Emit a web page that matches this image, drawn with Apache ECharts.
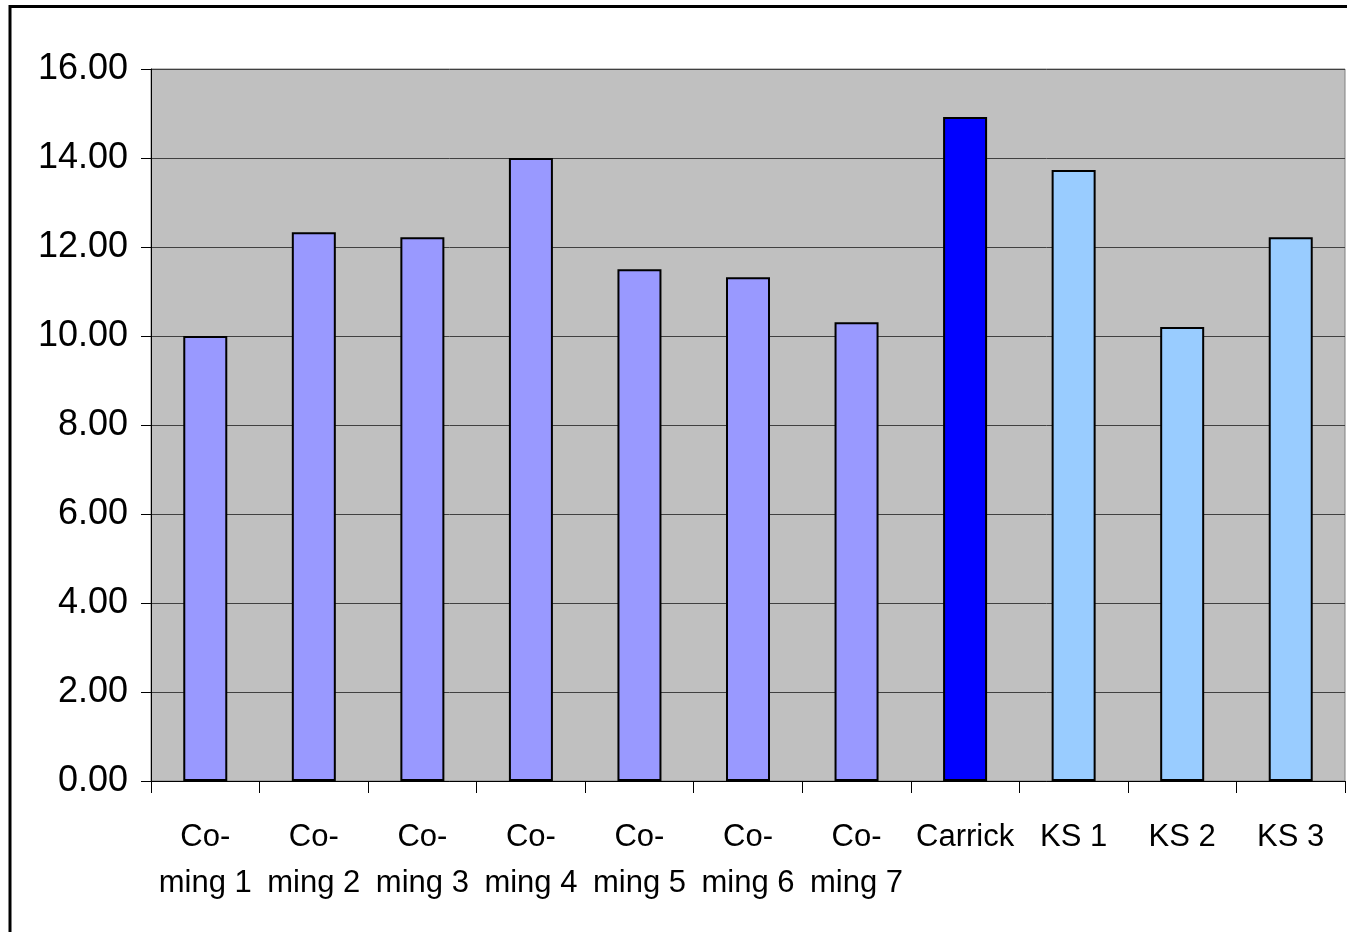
<!DOCTYPE html>
<html>
<head>
<meta charset="utf-8">
<script src="https://cdn.jsdelivr.net/npm/echarts@6/dist/echarts.min.js"></script>
<style>
  html, body { margin: 0; padding: 0; background: #fff; }
  #chart { width: 1347px; height: 932px; }
</style>
</head>
<body>
<div id="chart"></div>
<script>
// data
const categories = ['Co-ming 1', 'Co-ming 2', 'Co-ming 3', 'Co-ming 4', 'Co-ming 5', 'Co-ming 6', 'Co-ming 7', 'Carrick', 'KS 1', 'KS 2', 'KS 3'];
const values = [10.0, 12.33, 12.22, 14.0, 11.5, 11.32, 10.31, 14.92, 13.73, 10.2, 12.22];
const yTicks = [0, 2, 4, 6, 8, 10, 12, 14, 16];

// colour per group of sites
const groupColors = { 'Co-ming': '#9999FF', 'Carrick': '#0000FF', 'KS': '#99CCFF' };
function barColor(name) {
  if (name.indexOf('Co-ming') === 0) return groupColors['Co-ming'];
  if (name.indexOf('KS') === 0) return groupColors['KS'];
  return groupColors['Carrick'];
}

const font = "'Liberation Sans', Arial, sans-serif";
const chart = echarts.init(document.getElementById('chart'));

const option = {
  backgroundColor: '#ffffff',
  animation: false,
  graphic: [{
    type: 'rect',
    shape: { x: 10, y: 6.5, width: 1400, height: 1000 },
    style: { fill: 'none', stroke: '#000', lineWidth: 3 },
    silent: true
  }],
  grid: {
    left: 151, top: 69, right: 2, bottom: 151,
    show: true,
    backgroundColor: '#C0C0C0',
    borderColor: '#808080',
    borderWidth: 1
  },
  xAxis: {
    type: 'category',
    data: categories,
    boundaryGap: true,
    axisLine: { show: true, lineStyle: { color: '#000', width: 1 } },
    axisTick: { show: true, alignWithLabel: false, length: 12, lineStyle: { color: '#000' } },
    axisLabel: {
      interval: 0,
      margin: 33,
      color: '#000',
      fontFamily: font,
      fontSize: 31,
      lineHeight: 46,
      formatter: function (v) { return v.replace('Co-', 'Co-\n'); }
    }
  },
  yAxis: {
    type: 'value',
    min: yTicks[0],
    max: yTicks[yTicks.length - 1],
    interval: yTicks[1] - yTicks[0],
    axisLine: { show: true, lineStyle: { color: '#000', width: 1 } },
    axisTick: { show: true, length: 10, lineStyle: { color: '#000' } },
    axisLabel: {
      margin: 23,
      color: '#000',
      fontFamily: font,
      fontSize: 36,
      formatter: function (v) { return v.toFixed(2); }
    },
    splitLine: { show: true, lineStyle: { color: '#404040', width: 1 } }
  },
  series: [{
    type: 'bar',
    barWidth: 44,
    data: values.map(function (v, i) {
      return {
        value: v,
        itemStyle: { color: barColor(categories[i]) }
      };
    }),
    itemStyle: { borderColor: '#000', borderWidth: 2 }
  }]
};
chart.setOption(option);
</script>
</body>
</html>
